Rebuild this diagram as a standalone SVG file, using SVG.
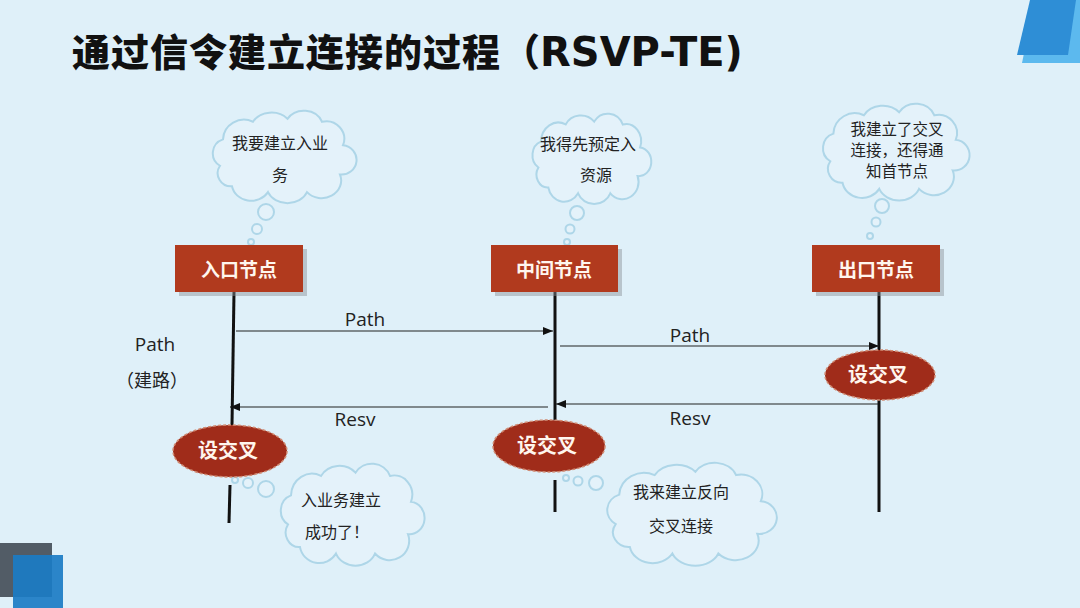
<svg xmlns="http://www.w3.org/2000/svg" width="1080" height="608" viewBox="0 0 1080 608">
<style>
.title{font-family:"Noto Sans CJK SC","Liberation Sans",sans-serif;font-weight:900;font-size:38px;fill:#111}
.tl{font-family:"DejaVu Sans","Noto Sans CJK SC",sans-serif;font-weight:700;font-size:40px}
.ct{font-family:"Noto Sans CJK SC","Liberation Sans",sans-serif;font-size:16px;fill:#222;text-anchor:middle}
.lbl{font-family:"Open Sans","Noto Sans CJK SC",sans-serif;font-size:19px;fill:#222;text-anchor:middle}
.nt{font-family:"Noto Sans CJK SC",sans-serif;font-weight:700;font-size:19px;fill:#fff6ee;text-anchor:middle}
.et{font-family:"Noto Sans CJK SC",sans-serif;font-weight:700;font-size:20px;fill:#fff6ee;text-anchor:middle}
.node{fill:#b13a1e}
.shadow{fill:#8a8f94;opacity:0.45}
.ell{fill:#a02c1a;stroke:#d08a72;stroke-width:1.5;stroke-dasharray:3 2}
.life{stroke:#111;stroke-width:3;fill:none}
.arr{stroke:#222;stroke-width:1.2;fill:none}
.cloud{fill:#e4f2fa;stroke:#aed6e8;stroke-width:2}
.bub{fill:#e4f2fa;stroke:#aed6e8;stroke-width:2}
</style>
<defs>
<symbol id="cloudShape" viewBox="0 0 100 60" preserveAspectRatio="none" overflow="visible">
<path vector-effect="non-scaling-stroke" class="cloud" d="M10 38 A10 10 0 0 1 12 20 A14 14 0 0 1 32 8 A14 12 0 0 1 55 6 A13 12 0 0 1 78 8 A12 12 0 0 1 92 24 A10 10 0 0 1 90 44 A13 12 0 0 1 68 56 A14 12 0 0 1 42 56 A13 12 0 0 1 18 52 A9 9 0 0 1 10 38 Z"/>
</symbol>
<marker id="ah" markerWidth="10" markerHeight="8" refX="10" refY="4" orient="auto" markerUnits="userSpaceOnUse">
<path d="M0 0 L10 4 L0 8 Z" fill="#111"/>
</marker>
</defs>
<rect x="0" y="0" width="1080" height="608" fill="#dff0f9"/>
<!-- decorations -->
<polygon points="1035,0 1080,0 1080,63 1022,63" fill="#5cb9ee"/>
<polygon points="1030,0 1076,0 1068,55 1017,55" fill="#2e8ed6"/>
<rect x="0" y="543" width="52" height="54" fill="#525c66"/>
<rect x="13" y="555" width="50" height="53" fill="#1b7cc4" opacity="0.92"/>
<text class="title" x="72" y="66"><tspan textLength="428" lengthAdjust="spacing">通过信令建立连接的过程</tspan><tspan x="502">（</tspan><tspan class="tl">RSVP-TE)</tspan></text>

<g id="clouds">
<g id="cloud1">
<use href="#cloudShape" x="205" y="110" width="150" height="88"/>
<circle class="bub" cx="266" cy="212" r="8"/>
<circle class="bub" cx="257" cy="229" r="5"/>
<circle class="bub" cx="251" cy="242" r="3"/>
<text class="ct" x="280" y="149">我要建立入业</text>
<text class="ct" x="280" y="181">务</text>
</g>
<g id="cloud2">
<use href="#cloudShape" x="526" y="113" width="124" height="86"/>
<circle class="bub" cx="577" cy="213" r="7"/>
<circle class="bub" cx="570" cy="229" r="4.5"/>
<circle class="bub" cx="567" cy="242" r="3"/>
<text class="ct" x="588" y="150">我得先预定入</text>
<text class="ct" x="596" y="181">资源</text>
</g>
<g id="cloud3">
<use href="#cloudShape" x="815" y="103" width="153" height="92"/>
<circle class="bub" cx="882" cy="206" r="7"/>
<circle class="bub" cx="876" cy="222" r="4.5"/>
<circle class="bub" cx="870" cy="236" r="3"/>
<text class="ct" x="897" y="135" style="font-size:15.5px">我建立了交叉</text>
<text class="ct" x="897" y="156" style="font-size:15.5px">连接，还得通</text>
<text class="ct" x="897" y="177" style="font-size:15.5px">知首节点</text>
</g>
<g id="cloud4">
<use href="#cloudShape" x="273" y="463" width="150" height="97"/>
<circle class="bub" cx="266" cy="489" r="8"/>
<circle class="bub" cx="248" cy="483" r="5"/>
<circle class="bub" cx="235" cy="480" r="3"/>
<text class="ct" x="341" y="506">入业务建立</text>
<text class="ct" x="337" y="538">成功了！</text>
</g>
<g id="cloud5">
<use href="#cloudShape" x="598" y="462" width="177" height="98"/>
<circle class="bub" cx="596" cy="483" r="7"/>
<circle class="bub" cx="578" cy="481" r="4.5"/>
<circle class="bub" cx="566" cy="478" r="3"/>
<text class="ct" x="681" y="498">我来建立反向</text>
<text class="ct" x="681" y="532">交叉连接</text>
</g>
</g>

<g id="connectors">
<line class="life" x1="234" y1="292" x2="232" y2="425"/>
<line class="life" x1="230" y1="485" x2="229" y2="523"/>
<line class="life" x1="555" y1="292" x2="555" y2="420"/>
<line class="life" x1="555" y1="480" x2="555" y2="512"/>
<line class="life" x1="879" y1="292" x2="879" y2="350"/>
<line class="life" x1="879" y1="400" x2="879" y2="512"/>
<line class="arr" x1="236" y1="331" x2="553" y2="331" marker-end="url(#ah)"/>
<line class="arr" x1="560" y1="346" x2="879" y2="346" marker-end="url(#ah)"/>
<line class="arr" x1="548" y1="407" x2="230" y2="407" marker-end="url(#ah)"/>
<line class="arr" x1="878" y1="404" x2="556" y2="404" marker-end="url(#ah)"/>
<text class="lbl" x="365" y="326">Path</text>
<text class="lbl" x="690" y="342">Path</text>
<text class="lbl" x="355" y="426">Resv</text>
<text class="lbl" x="690" y="425">Resv</text>
<text class="lbl" x="155" y="351">Path</text>
<text class="lbl" x="152" y="387" style="font-family:'Noto Sans CJK SC',sans-serif;font-size:18px">（建路）</text>
</g>

<g id="node-ingress">
<rect class="shadow" x="179" y="249" width="128" height="47"/>
<rect class="node" x="175" y="245" width="128" height="47"/>
<text class="nt" x="239" y="277">入口节点</text>
</g>
<g id="node-transit">
<rect class="shadow" x="495" y="249" width="127" height="47"/>
<rect class="node" x="491" y="245" width="127" height="47"/>
<text class="nt" x="554" y="277">中间节点</text>
</g>
<g id="node-egress">
<rect class="shadow" x="816" y="249" width="128" height="47"/>
<rect class="node" x="812" y="245" width="128" height="47"/>
<text class="nt" x="876" y="277">出口节点</text>
</g>

<g id="xc-ingress">
<ellipse class="ell" cx="230" cy="451" rx="57" ry="26"/>
<text class="et" x="228" y="458">设交叉</text>
</g>
<g id="xc-transit">
<ellipse class="ell" cx="549" cy="446" rx="56" ry="26"/>
<text class="et" x="547" y="453">设交叉</text>
</g>
<g id="xc-egress">
<ellipse class="ell" cx="880" cy="375" rx="55" ry="25"/>
<text class="et" x="878" y="382">设交叉</text>
</g>
</svg>
